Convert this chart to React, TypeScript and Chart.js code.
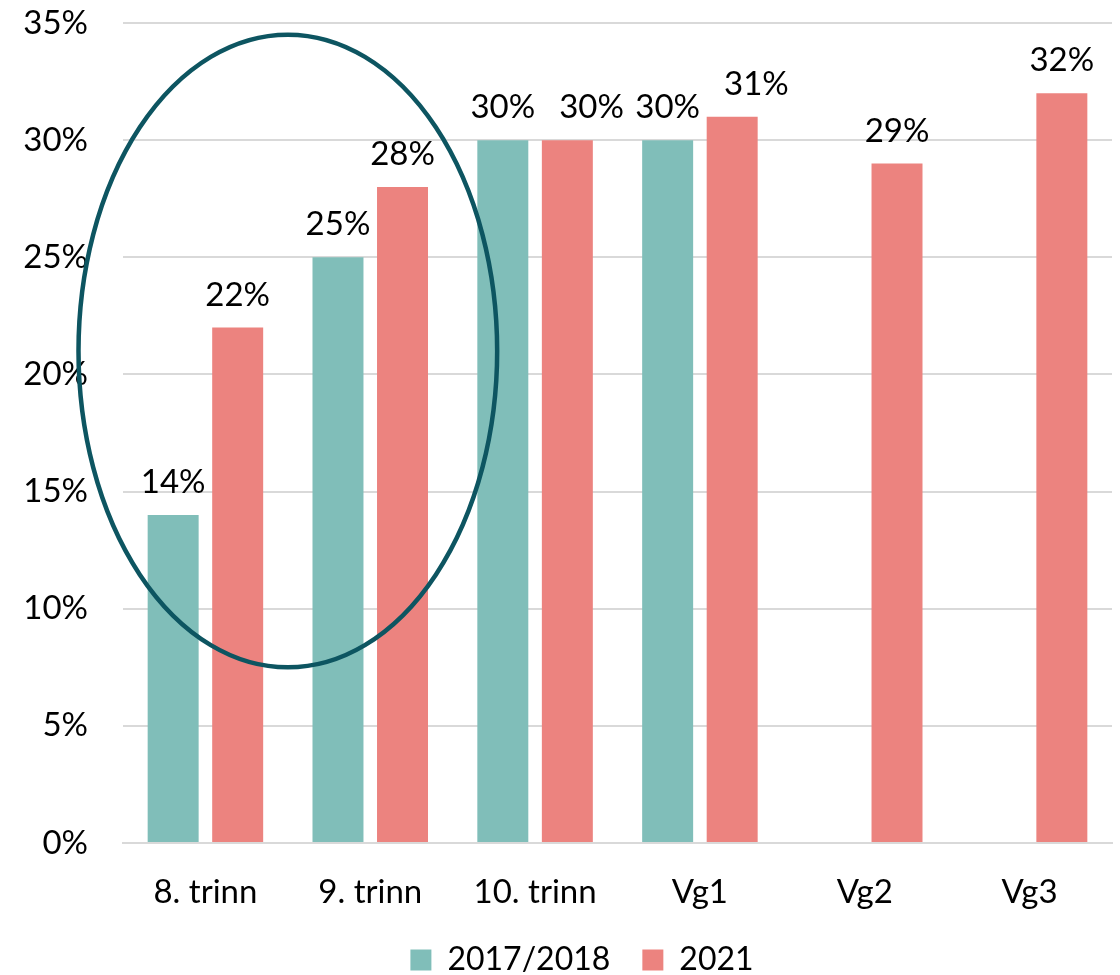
import React, { useEffect, useRef } from "react";
import { Chart, registerables } from "chart.js";

Chart.register(...registerables);

const categories = ["8. trinn", "9. trinn", "10. trinn", "Vg1", "Vg2", "Vg3"];
const series2017 = [14, 25, 30, 30, null, null];
const series2021 = [22, 28, 30, 31, 29, 32];
const seriesLabels = ["2017/2018", "2021"];
const seriesColors = ["#80BEB9", "#EC837F"];
const yTicks = [0, 5, 10, 15, 20, 25, 30, 35];

const FONT = "Lato, 'Noto Sans', sans-serif";
const FONT_SIZE = 33;
const LEGEND_PAD = 32;

const valueLabelPlugin = {
  id: "valueLabels",
  afterDatasetsDraw(chart: any) {
    const { ctx } = chart;
    ctx.save();
    ctx.font = `${FONT_SIZE}px ${FONT}`;
    ctx.fillStyle = "#000";
    ctx.textAlign = "left";
    ctx.textBaseline = "alphabetic";
    const items: { x: number; y: number; text: string; w: number }[] = [];
    chart.data.datasets.forEach((ds: any, di: number) => {
      const meta = chart.getDatasetMeta(di);
      meta.data.forEach((bar: any, i: number) => {
        const v = ds.data[i];
        if (v === null || v === undefined) return;
        const text = `${v}%`;
        items.push({ x: bar.x, y: bar.y - 22, text, w: ctx.measureText(text).width });
      });
    });
    items.sort((a, b) => a.x - b.x);
    let prevRight = -Infinity;
    let prevY = 0;
    items.forEach((it) => {
      let left = it.x - it.w / 2;
      if (left < prevRight + 6 && Math.abs(it.y - prevY) < FONT_SIZE) {
        left = prevRight + 24;
      }
      ctx.fillText(it.text, left, it.y);
      prevRight = left + it.w;
      prevY = it.y;
    });
    ctx.restore();
  },
};

const ellipsePlugin = {
  id: "highlightEllipse",
  afterDatasetsDraw(chart: any) {
    const { ctx, scales } = chart;
    const x = scales.x;
    const y = scales.y;
    const catW = x.getPixelForValue(1) - x.getPixelForValue(0);
    const cx = x.getPixelForValue(0.5);
    const cy = y.getPixelForValue(21);
    const rx = catW * 1.27;
    const ry = y.getPixelForValue(7.5) - cy;
    ctx.save();
    ctx.beginPath();
    ctx.ellipse(cx, cy, rx, ry, 0, 0, Math.PI * 2);
    ctx.strokeStyle = "#0D5561";
    ctx.lineWidth = 4.5;
    ctx.stroke();
    ctx.restore();
  },
};

const legendShiftPlugin = {
  id: "legendShift",
  afterLayout(chart: any) {
    if (chart.legend) {
      chart.legend.left += 26;
      chart.legend.right += 26;
    }
  },
};

export default function App() {
  const ref = useRef<HTMLCanvasElement | null>(null);
  useEffect(() => {
    document.body.style.margin = "0";
    const chart = new Chart(ref.current as HTMLCanvasElement, {
      type: "bar",
      data: {
        labels: categories,
        datasets: [
          {
            label: seriesLabels[0],
            data: series2017,
            backgroundColor: seriesColors[0],
            categoryPercentage: 0.783,
            barPercentage: 0.79,
          },
          {
            label: seriesLabels[1],
            data: series2021,
            backgroundColor: seriesColors[1],
            categoryPercentage: 0.783,
            barPercentage: 0.79,
          },
        ],
      },
      options: {
        animation: false,
        responsive: false,
        maintainAspectRatio: false,
        layout: { padding: { top: 23, right: 8, left: 0, bottom: -11 } },
        plugins: {
          tooltip: { enabled: false },
          legend: {
            position: "bottom",
            labels: {
              boxWidth: 21,
              boxHeight: 21,
              padding: LEGEND_PAD,
              color: "#000",
              font: { family: FONT, size: 32 },
            },
          },
        },
        scales: {
          x: {
            grid: { display: false },
            border: { display: true, color: "#D9D9D9", width: 2 },
            afterFit(scale: any) {
              scale.height = 101 - LEGEND_PAD;
            },
            ticks: {
              color: "#000",
              padding: 22,
              font: { family: FONT, size: FONT_SIZE },
            },
          },
          y: {
            min: 0,
            max: 35,
            afterFit(scale: any) {
              scale.width = 123;
              scale.paddingTop = 0;
              scale.paddingBottom = 0;
            },
            afterBuildTicks(scale: any) {
              scale.ticks = yTicks.map((v) => ({ value: v }));
            },
            grid: { color: "#D9D9D9", lineWidth: 2, drawTicks: false },
            border: { display: false },
            ticks: {
              color: "#000",
              padding: 35,
              font: { family: FONT, size: FONT_SIZE },
              callback: (v: any) => `${v}%`,
            },
          },
        },
      },
      plugins: [valueLabelPlugin, ellipsePlugin, legendShiftPlugin],
    });
    return () => chart.destroy();
  }, []);
  return (
    <div style={{ position: "absolute", left: 0, top: 0, width: 1120, height: 975 }}>
      <canvas ref={ref} width={1120} height={975} style={{ width: 1120, height: 975 }} />
    </div>
  );
}
